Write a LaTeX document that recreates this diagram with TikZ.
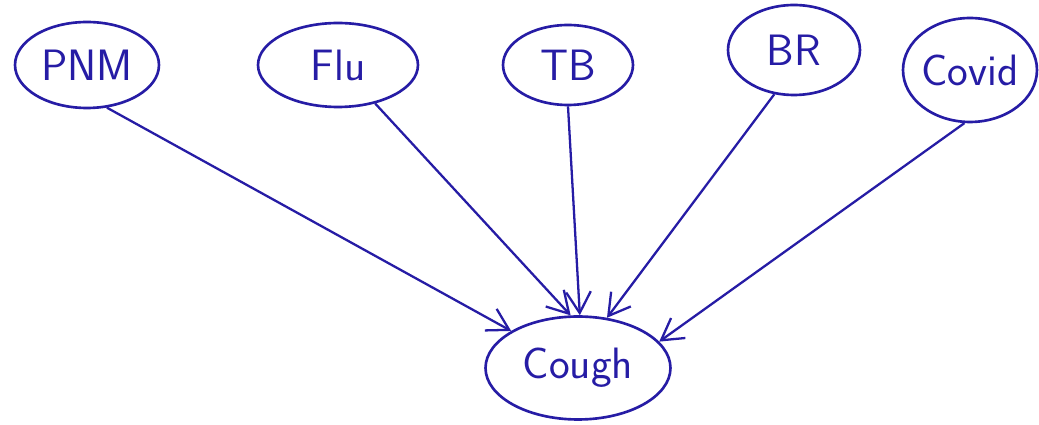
\documentclass[tikz,border=0pt]{standalone}
\usepackage{tikz}
\usetikzlibrary{shapes.geometric,arrows.meta}

\definecolor{penblue}{RGB}{38,28,165}

\tikzset{
  cause/.style={ellipse, draw=penblue, line width=1.5pt, inner sep=0pt,
    label={[text=penblue, font=\sffamily\fontsize{25}{27}\selectfont]center:#1}},
  link/.style={draw=penblue, line width=1.3pt, ->, >={Straight Barb[length=12pt,width=14pt]}}
}

\begin{document}
\begin{tikzpicture}[x=0.02cm, y=-0.02cm]
	\useasboundingbox (0,0) rectangle (1039,425);
	\fill[white] (0,0) rectangle (1039,425);
\node[cause=PNM, minimum width=2.88cm, minimum height=1.72cm] (pnm) at (87,65) {}; % PNM 
\node[cause=Flu, minimum width=3.2cm, minimum height=1.68cm] (flu) at (338,65) {}; % Flu 
\node[cause=TB, minimum width=2.6cm, minimum height=1.6cm] (tb) at (568,65) {}; % TB 
\node[cause=BR, minimum width=2.64cm, minimum height=1.8cm] (br) at (794,50) {}; % BR 
\node[cause=Covid, minimum width=2.68cm, minimum height=2.08cm] (covid) at (970,70) {}; % Covid 
\node[cause=Cough, minimum width=3.7cm, minimum height=2.06cm] (cough) at (578,368) {}; % Cough 

\draw[link] (pnm.-65) -- (cough.151) ; % PNM -> Cough 
\draw[link] (flu.-46) -- (cough.98) ; % Flu -> Cough 
\draw[link] (tb.-90) -- (cough.88) ; % TB -> Cough 
\draw[link] (br.-114) -- (cough.60) ; % BR -> Cough 
\draw[link] (covid.-96) -- (cough.18) ; % Covid -> Cough 

	\end{tikzpicture}
\end{document}
